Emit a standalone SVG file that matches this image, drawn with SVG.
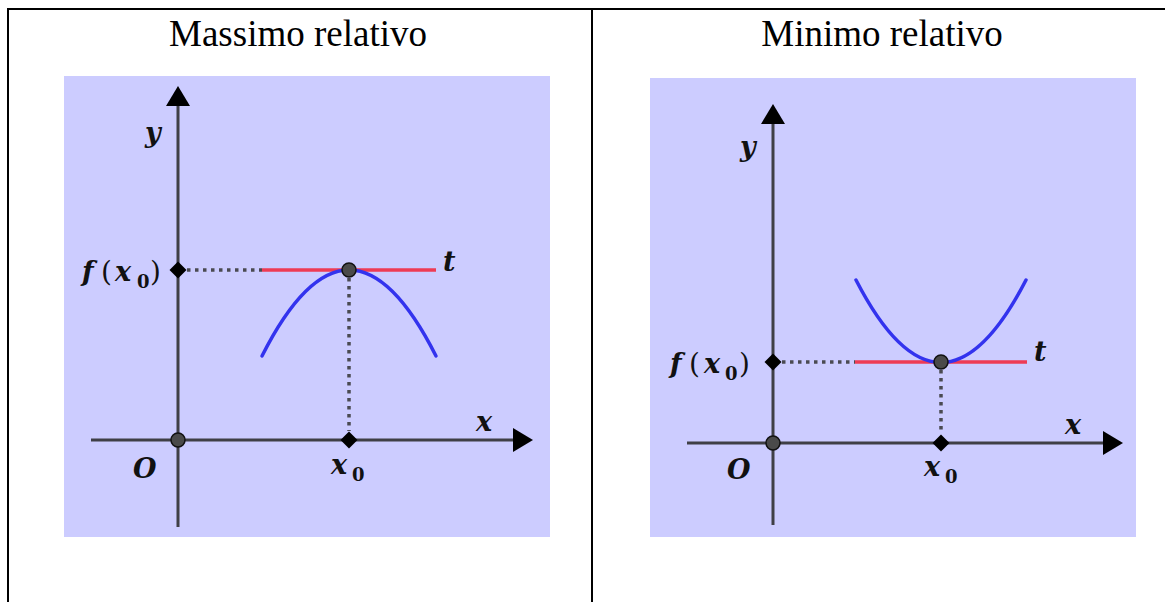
<svg xmlns="http://www.w3.org/2000/svg" xmlns:xlink="http://www.w3.org/1999/xlink" width="1165" height="602" viewBox="0 0 1165 602">
<style>
.title{font-family:"Liberation Serif","Times New Roman",serif;font-size:37px;fill:#000;text-anchor:middle}
.bg{fill:#ccccff}
.axis{stroke:#3f3f46;stroke-width:3;fill:none}
.dot{stroke:#4a4a52;stroke-width:3.5;stroke-dasharray:3.5 4.5;fill:none}
.tan{stroke:#ee3b55;stroke-width:3.5;fill:none}
.curve{stroke:#3333ee;stroke-width:3.5;fill:none;stroke-linecap:round}
.pt{fill:#4a4a4a;stroke:#111;stroke-width:1.5}
.m{font-family:"DejaVu Serif","Liberation Serif",serif;font-size:27px;font-weight:bold;font-style:italic;fill:#111}
.p{font-family:"DejaVu Serif","Liberation Serif",serif;font-size:28px;font-weight:normal;font-style:normal}
.sub{font-family:"DejaVu Serif","Liberation Serif",serif;font-size:18px;font-weight:bold;font-style:normal;fill:#111}
.grid{stroke:#000;stroke-width:2;fill:none}
</style>
<defs>
<marker id="arr" markerUnits="userSpaceOnUse" markerWidth="21" markerHeight="24" refX="0" refY="12" orient="auto">
<path d="M0,0 L20,12 L0,24 z" fill="#000"/>
</marker>
<path id="dia" d="M0,-8.5 L8.5,0 L0,8.5 L-8.5,0 z" fill="#000"/>
</defs>

<g id="table">
<line class="grid" x1="7" y1="9" x2="1165" y2="9"/>
<line class="grid" x1="8" y1="8" x2="8" y2="602"/>
<line class="grid" x1="592" y1="8" x2="592" y2="602"/>
</g>

<g id="panel-max">
<text class="title" x="298" y="46">Massimo relativo</text>
<rect class="bg" x="64" y="76" width="486" height="461"/>
<g id="max-connectors">
<line class="axis" x1="178" y1="527" x2="178" y2="106" marker-end="url(#arr)"/>
<line class="axis" x1="91" y1="440" x2="513" y2="440" marker-end="url(#arr)"/>
<line class="dot" x1="187" y1="270" x2="262" y2="270"/>
<line class="dot" x1="349" y1="278" x2="349" y2="431"/>
<line class="tan" x1="262" y1="270" x2="436" y2="270"/>
<path class="curve" d="M262,356 Q349,184 436,356"/>
</g>
<g id="max-points">
<circle class="pt" cx="178" cy="440" r="7"/>
<circle class="pt" cx="349" cy="270" r="7"/>
<use xlink:href="#dia" x="178" y="270"/>
<use xlink:href="#dia" x="349" y="440"/>
</g>
<g id="max-labels">
<text class="m" x="145" y="142">y</text>
<text class="m" x="443" y="271">t</text>
<text class="m" x="476" y="431">x</text>
<text class="m" x="133" y="478">O</text>
<text class="m" x="331" y="474">x<tspan class="sub" x="352" y="481">0</tspan></text>
<text class="m" y="281"><tspan x="82">f</tspan><tspan class="p" x="101">(</tspan><tspan x="115">x</tspan><tspan class="sub" x="137" y="288">0</tspan><tspan class="p" x="150" y="281">)</tspan></text>
</g>
</g>

<g id="panel-min">
<text class="title" x="882" y="46">Minimo relativo</text>
<rect class="bg" x="650" y="78" width="486" height="459"/>
<g id="min-connectors">
<line class="axis" x1="773" y1="525" x2="773" y2="124" marker-end="url(#arr)"/>
<line class="axis" x1="687" y1="443" x2="1103" y2="443" marker-end="url(#arr)"/>
<line class="dot" x1="782" y1="362" x2="855" y2="362"/>
<line class="dot" x1="941" y1="370" x2="941" y2="434"/>
<line class="tan" x1="855" y1="362" x2="1027" y2="362"/>
<path class="curve" d="M856,280 Q941,445 1026,280"/>
</g>
<g id="min-points">
<circle class="pt" cx="773" cy="443" r="7"/>
<circle class="pt" cx="941" cy="362" r="7"/>
<use xlink:href="#dia" x="773" y="362"/>
<use xlink:href="#dia" x="941" y="443"/>
</g>
<g id="min-labels">
<text class="m" x="740" y="156">y</text>
<text class="m" x="1034" y="361">t</text>
<text class="m" x="1065" y="434">x</text>
<text class="m" x="727" y="479">O</text>
<text class="m" x="924" y="476">x<tspan class="sub" x="945" y="483">0</tspan></text>
<text class="m" y="373"><tspan x="670">f</tspan><tspan class="p" x="689">(</tspan><tspan x="704">x</tspan><tspan class="sub" x="725" y="380">0</tspan><tspan class="p" x="739" y="373">)</tspan></text>
</g>
</g>
</svg>
